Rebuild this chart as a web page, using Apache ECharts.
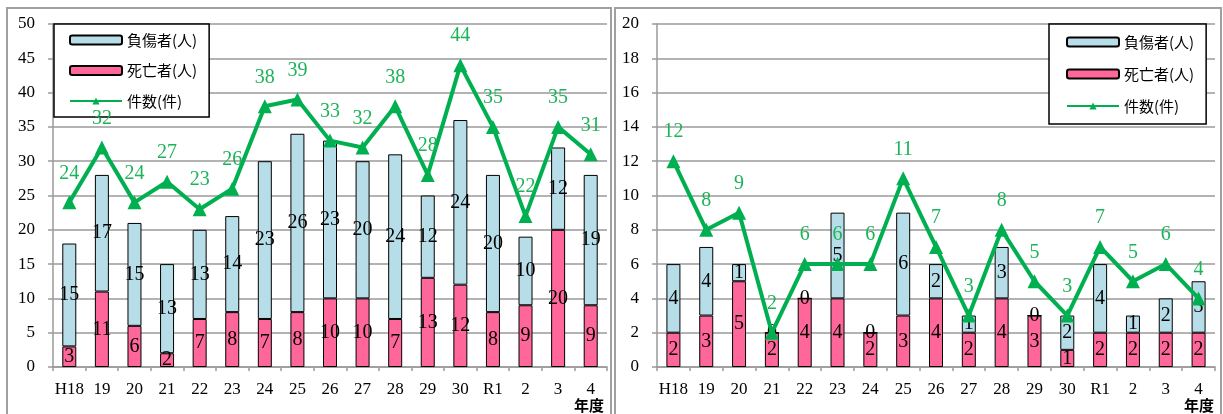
<!DOCTYPE html>
<html>
<head>
<meta charset="utf-8">
<script src="https://cdn.jsdelivr.net/npm/echarts@6/dist/echarts.min.js"></script>
<style>
  html, body { margin: 0; padding: 0; background: #ffffff; }
  #chart { width: 1223px; height: 414px; }
</style>
</head>
<body>
<div id="chart"></div>
<script>
// Fiscal years (Heisei 18 to Reiwa 4)
const years = ['H18', '19', '20', '21', '22', '23', '24', '25', '26', '27', '28', '29', '30', 'R1', '2', '3', '4'];

// Left panel: all accidents
const leftDeaths   = [3, 11, 6, 2, 7, 8, 7, 8, 10, 10, 7, 13, 12, 8, 9, 20, 9];
const leftInjuries = [15, 17, 15, 13, 13, 14, 23, 26, 23, 20, 24, 12, 24, 20, 10, 12, 19];
const leftCases    = [24, 32, 24, 27, 23, 26, 38, 39, 33, 32, 38, 28, 44, 35, 22, 35, 31];

// Right panel: subset
const rightDeaths   = [2, 3, 5, 2, 4, 4, 2, 3, 4, 2, 4, 3, 1, 2, 2, 2, 2];
const rightInjuries = [4, 4, 1, 0, 0, 5, 0, 6, 2, 1, 3, 0, 2, 4, 1, 2, 3];
const rightCases    = [12, 8, 9, 2, 6, 6, 6, 11, 7, 3, 8, 5, 3, 7, 5, 6, 4];

const NAME_INJ = '負傷者(人)';
const NAME_DEAD = '死亡者(人)';
const NAME_CASE = '件数(件)';

const SERIF = '"Liberation Serif", "DejaVu Serif", serif';
const CJK = '"Noto Sans CJK JP", "Noto Sans", sans-serif';
const GRID_GRAY = '#9a9a9a';
const BLUE = '#b7dee8';
const PINK = '#ff6699';
const GREEN = '#00b050';

const chart = echarts.init(document.getElementById('chart'), null, { renderer: 'canvas' });

function xAxisFor(gridIndex) {
  return {
    type: 'category', gridIndex, data: years, boundaryGap: true,
    axisLine: { show: true, lineStyle: { color: GRID_GRAY, width: 1.5 } },
    axisTick: { show: true, interval: 0, length: 4, inside: false, lineStyle: { color: GRID_GRAY, width: 1.5 } },
    axisLabel: { interval: 0, color: '#000', fontFamily: SERIF, fontSize: 17, margin: 14 }
  };
}
function yAxisFor(gridIndex, max, interval) {
  return {
    type: 'value', gridIndex, min: 0, max, interval,
    axisLine: { show: true, lineStyle: { color: GRID_GRAY, width: 1.5 } },
    axisTick: { show: true, length: 5, lineStyle: { color: GRID_GRAY, width: 1.5 } },
    axisLabel: { color: '#000', fontFamily: SERIF, fontSize: 17, margin: 18 },
    splitLine: { show: true, lineStyle: { color: GRID_GRAY, width: 1.5 } }
  };
}
function barLabel() {
  return { show: true, position: 'inside', color: '#000', fontFamily: SERIF, fontSize: 20 };
}
function barSeries(name, data, idx, stack, color) {
  return {
    name, type: 'bar', data, xAxisIndex: idx, yAxisIndex: idx, stack,
    barWidth: 14,
    itemStyle: { color, borderColor: '#000', borderWidth: 1 },
    label: barLabel(), z: 2
  };
}
function lineSeries(data, idx) {
  return {
    name: NAME_CASE, type: 'line', data, xAxisIndex: idx, yAxisIndex: idx,
    symbol: 'triangle', symbolSize: 14,
    lineStyle: { color: GREEN, width: 4 },
    itemStyle: { color: GREEN },
    label: { show: true, position: 'top', distance: 12, color: '#1db35a', fontFamily: SERIF, fontSize: 20 },
    z: 5
  };
}
function legendAt(left, top, gap, pad) {
  return {
    left, top, orient: 'vertical',
    data: [NAME_INJ, NAME_DEAD, NAME_CASE],
    itemWidth: 52, itemHeight: 9, itemGap: gap, itemTextGap: 7,
    padding: pad,
    backgroundColor: '#fff', borderColor: '#000', borderWidth: 1.5,
    textStyle: { color: '#000', fontFamily: CJK, fontSize: 15, lineHeight: 16 },
    selectedMode: false
  };
}

chart.setOption({
  animation: false,
  backgroundColor: '#fff',
  grid: [
    { left: 53, top: 24, width: 554, height: 343 },
    { left: 657, top: 24, width: 558, height: 343 }
  ],
  xAxis: [xAxisFor(0), xAxisFor(1)],
  yAxis: [yAxisFor(0, 50, 5), yAxisFor(1, 20, 2)],
  legend: [
    legendAt(54, 24, 14.5, [8, 12, 8, 15]),
    legendAt(1049, 24, 16, [10, 12, 10, 17])
  ],
  graphic: [
    // panel frames
    { type: 'rect', shape: { x: 7, y: 8, width: 604, height: 420 }, style: { fill: 'none', stroke: '#a0a0a0', lineWidth: 2 }, silent: true, z: -1 },
    { type: 'rect', shape: { x: 615, y: 8, width: 606, height: 420 }, style: { fill: 'none', stroke: '#a0a0a0', lineWidth: 2 }, silent: true, z: -1 },
    // fiscal-year unit captions
    { type: 'text', left: 574, top: 398, style: { text: '年度', fill: '#000', font: 'bold 15px ' + CJK } },
    { type: 'text', left: 1184, top: 398, style: { text: '年度', fill: '#000', font: 'bold 15px ' + CJK } }
  ],
  series: [
    barSeries(NAME_DEAD, leftDeaths, 0, 'left', PINK),
    barSeries(NAME_INJ, leftInjuries, 0, 'left', BLUE),
    lineSeries(leftCases, 0),
    barSeries(NAME_DEAD, rightDeaths, 1, 'right', PINK),
    barSeries(NAME_INJ, rightInjuries, 1, 'right', BLUE),
    lineSeries(rightCases, 1)
  ]
});
</script>
</body>
</html>
